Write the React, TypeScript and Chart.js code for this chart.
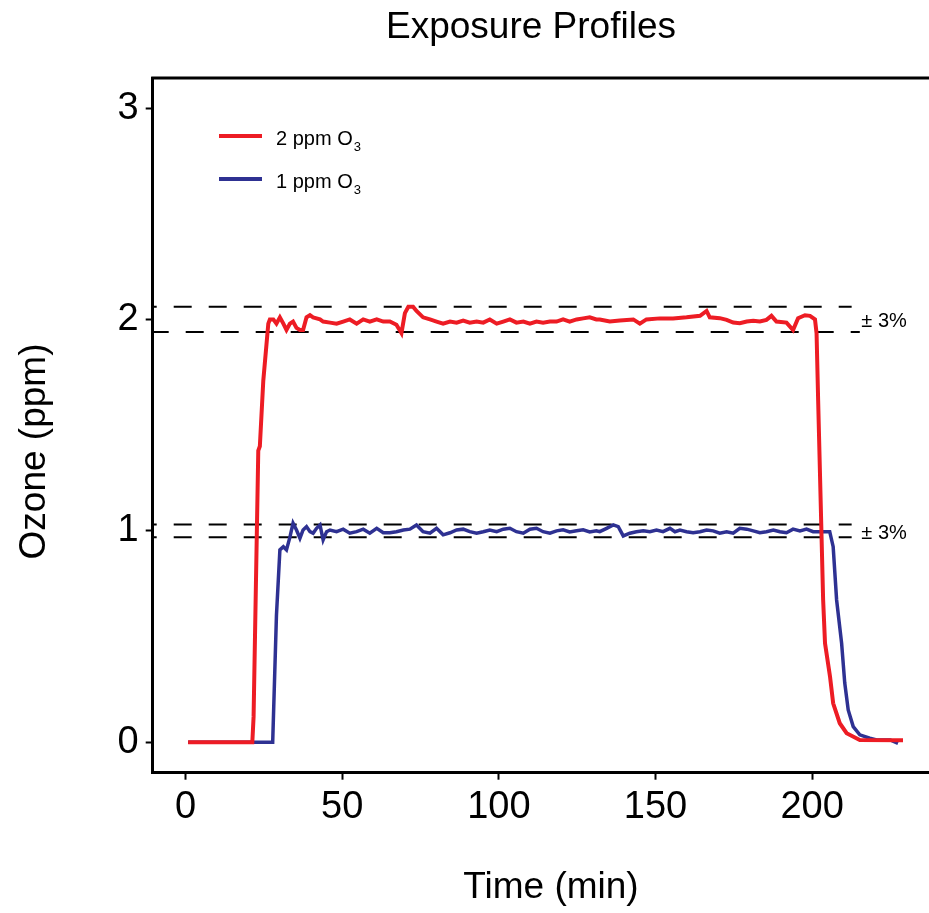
import React, { useEffect, useRef } from 'react';
import { Chart, registerables } from 'chart.js';

Chart.register(...registerables);

// ---- data ----
const redTime = [
  0.8, 21.3, 21.7, 23.2, 23.7, 24.8, 26.4, 26.9, 28.0, 29.0, 30.1, 31.2, 32.2, 33.3, 34.3, 35.4,
  36.5, 37.5, 38.6, 39.7, 40.7, 41.8, 42.9, 43.9, 46.1, 48.2, 50.3, 52.4, 54.6, 56.7, 58.8, 61.0,
  63.1, 65.2, 67.3, 68.9, 70.0, 71.1, 72.6, 73.7, 75.8, 78.0, 80.1, 82.2, 84.4, 86.5, 88.6, 90.7,
  92.9, 95.0, 97.1, 99.3, 101.4, 103.5, 105.6, 107.8, 109.9, 112.0, 114.1, 116.3, 118.4, 120.5,
  122.6, 124.8, 126.9, 129.0, 131.1, 132.2, 135.4, 138.6, 142.9, 145.0, 147.1, 151.4, 155.6,
  159.9, 164.2, 166.3, 167.3, 170.5, 172.7, 174.8, 176.9, 179.1, 181.2, 183.3, 185.4, 187.0,
  188.6, 191.8, 193.9, 195.5, 197.7, 199.3, 200.9, 201.4, 201.9, 203.5, 204.1, 205.7, 206.7,
  208.8, 211.0, 215.2, 229.0,
];
const redOzone = [
  0, 0, 0.12, 1.38, 1.40, 1.71, 1.98, 2.0, 2.0, 1.98, 2.01, 1.98, 1.95, 1.98, 1.99, 1.96,
  1.95, 1.95, 2.01, 2.02, 2.01, 2.005, 2.0, 1.99, 1.985, 1.98, 1.99, 2.0, 1.98, 2.0, 1.99, 2.0,
  1.99, 1.99, 1.975, 1.935, 2.03, 2.06, 2.06, 2.04, 2.01, 2.0, 1.99, 1.98, 1.99, 1.985, 1.995, 1.985,
  1.99, 1.985, 2.0, 1.98, 1.99, 2.0, 1.985, 1.99, 1.98, 1.99, 1.985, 1.99, 1.99, 2.0,
  1.99, 2.0, 2.005, 2.01, 2.0, 2.0, 1.99, 1.995, 2.0, 1.98, 2.0, 2.005, 2.005,
  2.01, 2.017, 2.04, 2.01, 2.006, 1.998, 1.985, 1.982, 1.99, 1.994, 1.99, 1.998, 2.017,
  1.99, 1.985, 1.95, 2.006, 2.02, 2.017, 2.0, 1.935, 1.62, 0.673, 0.468, 0.31, 0.184,
  0.09, 0.043, 0.011, 0.01,
];
const blueTime = [
  0.8, 27.8, 29.0, 30.1, 31.2, 32.2, 33.3, 34.3, 35.4, 36.5, 37.5, 38.6, 39.7, 40.7, 41.8, 42.9,
  43.9, 45.0, 46.1, 48.2, 50.3, 52.4, 54.6, 56.7, 58.8, 61.0, 63.1, 65.2, 67.3, 69.5, 71.6, 73.7,
  75.8, 78.0, 80.1, 82.2, 84.4, 86.5, 88.6, 90.7, 92.9, 95.0, 97.1, 99.3, 101.4, 103.5, 105.6,
  107.8, 109.9, 112.0, 114.1, 116.3, 118.4, 120.5, 122.6, 124.8, 126.9, 129.0, 131.1, 132.2,
  134.4, 136.5, 138.1, 139.7, 141.8, 143.9, 146.1, 148.2, 150.3, 152.4, 154.6, 156.2, 157.8,
  159.9, 162.0, 164.2, 166.3, 168.4, 170.5, 172.7, 174.8, 176.9, 179.1, 181.2, 183.3, 185.4,
  187.6, 189.7, 191.8, 193.9, 196.1, 198.2, 200.3, 202.5, 205.6, 206.7, 207.8, 209.4, 210.4,
  211.5, 213.1, 215.2, 218.4, 220.6, 224.9, 227.4,
];
const blueOzone = [
  0, 0, 0.6, 0.91, 0.925, 0.91, 0.97, 1.036, 1.004, 0.965, 1.004, 1.02, 0.996, 0.989, 1.012, 1.028,
  0.957, 0.996, 1.004, 0.996, 1.008, 0.989, 0.996, 1.008, 0.989, 1.012, 0.991, 0.991, 0.996, 1.004, 1.008, 1.028,
  0.996, 0.989, 1.012, 0.981, 0.991, 1.004, 1.008, 0.996, 0.989, 0.996, 1.004, 0.996, 1.008, 1.012, 0.996,
  0.989, 1.008, 1.012, 0.996, 0.989, 1.0, 1.005, 0.995, 1.0, 1.005, 0.995, 1.0, 0.996,
  1.012, 1.028, 1.02, 0.976, 0.989, 0.996, 1.0, 0.996, 1.004, 0.996, 1.012, 0.996, 1.004,
  0.996, 0.991, 0.996, 1.004, 1.0, 0.989, 0.996, 0.989, 1.012, 1.008, 1.0, 0.991, 0.996,
  1.004, 0.996, 0.991, 1.008, 1.0, 1.008, 0.996, 0.996, 0.996, 0.925, 0.673, 0.468, 0.28,
  0.153, 0.074, 0.035, 0.019, 0.011, 0.011, -0.005,
];
const toleranceLevels = [2.06, 1.94, 1.03, 0.97];
const toleranceStart = -10.5;
const toleranceEnd = [212.6, 215.2, 212.6, 212.6];
const toleranceLabelTargets = [2, 1];
const toleranceLabelTime = 215.7;
const toleranceLabel = '± 3%';
const xTicks = [0, 50, 100, 150, 200];
const yTicks = [0, 1, 2, 3];
const seriesLabels = ['2 ppm O', '1 ppm O'];
const seriesSubscript = '3';
const chartTitle = 'Exposure Profiles';
const xTitle = 'Time (min)';
const yTitle = 'Ozone (ppm)';

const FONT = '"Liberation Sans", Arial, Helvetica, sans-serif';
const RED = '#ED1C24';
const BLUE = '#2E3192';
const dashOffsets = [14, 2, 14, 14];

const decorPlugin = {
  id: 'decor',
  afterDraw(chart: any) {
    const { ctx, chartArea, scales } = chart;
    const xs = scales.x;
    const ys = scales.y;
    ctx.save();
    // top frame line
    ctx.strokeStyle = '#000';
    ctx.lineWidth = 3;
    ctx.beginPath();
    ctx.moveTo(chartArea.left - 1.5, chartArea.top);
    ctx.lineTo(chartArea.right + 1.5, chartArea.top);
    ctx.stroke();

    ctx.fillStyle = '#000';
    // chart title
    ctx.font = `37px ${FONT}`;
    ctx.textAlign = 'center';
    ctx.textBaseline = 'alphabetic';
    ctx.fillText(chartTitle, 531, 38);
    // x title
    ctx.font = `37px ${FONT}`;
    ctx.fillText(xTitle, 551, 898);
    // y title
    ctx.save();
    ctx.translate(45, 451.5);
    ctx.rotate(-Math.PI / 2);
    ctx.fillText(yTitle, 0, 0);
    ctx.restore();

    // legend
    const colors = [RED, BLUE];
    const rowsY = [136, 179];
    ctx.lineWidth = 4;
    ctx.lineCap = 'butt';
    ctx.textAlign = 'left';
    seriesLabels.forEach((lab, i) => {
      ctx.strokeStyle = colors[i];
      ctx.beginPath();
      ctx.moveTo(219, rowsY[i]);
      ctx.lineTo(262, rowsY[i]);
      ctx.stroke();
      ctx.font = `20px ${FONT}`;
      ctx.fillText(lab, 276, rowsY[i] + 8.5);
      const w = ctx.measureText(lab).width;
      ctx.font = `13px ${FONT}`;
      ctx.fillText(seriesSubscript, 276 + w + 1, rowsY[i] + 14.5);
    });

    // tolerance labels
    ctx.font = `20px ${FONT}`;
    ctx.textBaseline = 'middle';
    toleranceLabelTargets.forEach((v) => {
      ctx.fillText(toleranceLabel, xs.getPixelForValue(toleranceLabelTime), ys.getPixelForValue(v) + 2.5);
    });
    ctx.restore();
  },
};

export default function App() {
  const ref = useRef<HTMLCanvasElement | null>(null);
  useEffect(() => {
    if (!ref.current) return;
    const datasets: any[] = [
      {
        label: seriesLabels[0],
        data: redTime.map((t, i) => ({ x: t, y: redOzone[i] })),
        borderColor: RED,
        borderWidth: 4,
        pointRadius: 0,
        tension: 0,
        fill: false,
      },
      {
        label: seriesLabels[1],
        data: blueTime.map((t, i) => ({ x: t, y: blueOzone[i] })),
        borderColor: BLUE,
        borderWidth: 3.5,
        pointRadius: 0,
        tension: 0,
        fill: false,
      },
      ...toleranceLevels.map((v, i) => ({
        label: 'tol' + i,
        data: [
          { x: toleranceStart, y: v },
          { x: toleranceEnd[i], y: v },
        ],
        borderColor: '#000',
        borderWidth: 2,
        borderDash: [18, 17],
        borderDashOffset: dashOffsets[i],
        pointRadius: 0,
        fill: false,
      })),
    ];
    const chart = new Chart(ref.current, {
      type: 'line',
      data: { datasets },
      options: {
        animation: false,
        responsive: false,
        devicePixelRatio: 1,
        layout: { padding: { left: 0, top: 78, right: 20, bottom: 0 } },
        plugins: { legend: { display: false }, tooltip: { enabled: false }, title: { display: false } },
        scales: {
          x: {
            type: 'linear',
            min: -10.5,
            max: 240.8,
            afterBuildTicks: (s: any) => {
              s.ticks = xTicks.map((v) => ({ value: v }));
            },
            afterFit: (s: any) => {
              s.height = 140.3;
            },
            grid: { display: true, drawOnChartArea: false, drawTicks: true, tickLength: 7, tickWidth: 2, tickColor: '#000' },
            border: { display: true, color: '#000', width: 3 },
            ticks: { color: '#000', font: { family: FONT, size: 38 }, padding: 5, maxRotation: 0, autoSkip: false },
          },
          y: {
            type: 'linear',
            min: -0.144,
            max: 3.142,
            afterBuildTicks: (s: any) => {
              s.ticks = yTicks.map((v) => ({ value: v }));
            },
            afterFit: (s: any) => {
              s.width = 152.7;
            },
            grid: { display: true, drawOnChartArea: false, drawTicks: true, tickLength: 7, tickWidth: 2, tickColor: '#000' },
            border: { display: true, color: '#000', width: 3 },
            ticks: { color: '#000', font: { family: FONT, size: 38 }, padding: 7, autoSkip: false },
          },
        },
      },
      plugins: [decorPlugin],
    });
    return () => chart.destroy();
  }, []);
  return (
    <div style={{ position: 'fixed', left: 0, top: 0, width: 929, height: 913, overflow: 'hidden', background: '#fff' }}>
      <canvas ref={ref} width={960} height={913} style={{ display: 'block', width: 960, height: 913 }} />
    </div>
  );
}
